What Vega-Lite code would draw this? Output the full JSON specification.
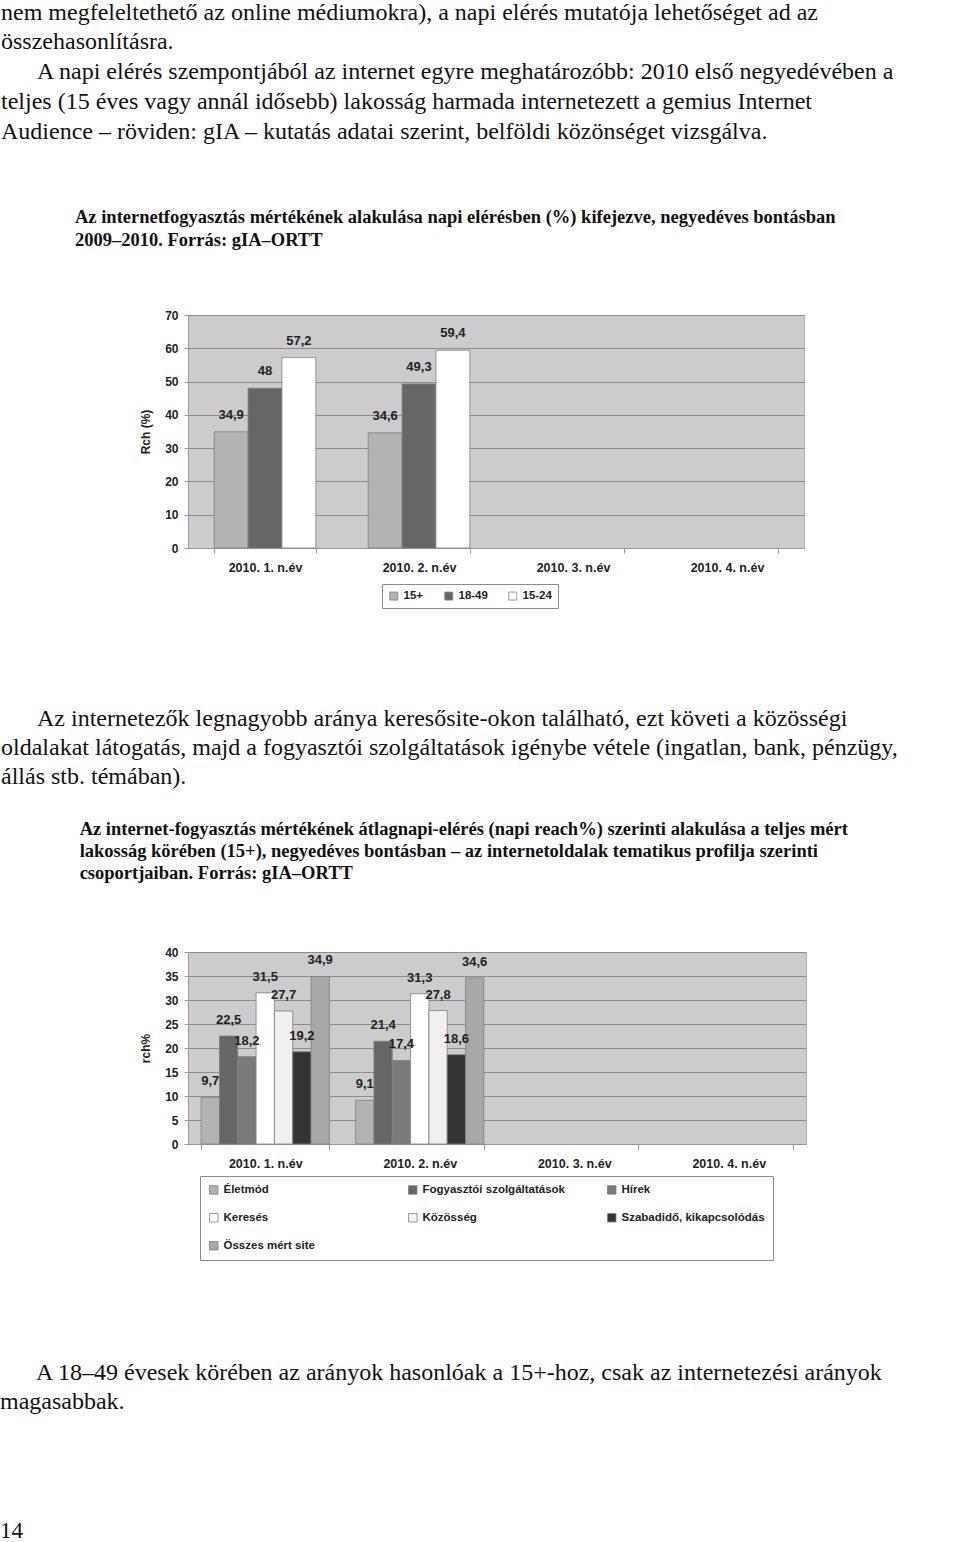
{
  "$schema": "https://vega.github.io/schema/vega-lite/v6.json",
  "padding": 0,
  "background": "white",
  "spacing": 97,
  "resolve": {"scale": {"color": "independent", "xOffset": "independent", "x": "independent", "y": "independent"}, "legend": {"color": "independent"}},
  "config": {
    "locale": {"number": {"decimal": ",", "thousands": " ", "grouping": [3], "currency": ["", ""]}},
    "view": {"fill": "#cccccc", "stroke": "#b0b0b0", "strokeWidth": 1},
    "axis": {
      "labelFont": "Liberation Sans", "labelFontWeight": "bold", "labelColor": "#222",
      "titleFont": "Liberation Sans", "titleFontWeight": "bold", "titleColor": "#222", "titleFontSize": 12,
      "domainColor": "#999", "tickColor": "#999"
    },
    "legend": {
      "labelFont": "Liberation Sans", "labelFontWeight": "bold", "labelFontSize": 11.5, "labelColor": "#222",
      "symbolType": "square", "symbolSize": 64, "symbolStrokeColor": "#808080", "symbolStrokeWidth": 0.8,
      "strokeColor": "#8c8c8c", "fillColor": "#ffffff"
    }
  },
  "title": {
    "text": [
      "\u200b\u00a0\u00a0\u00a0\u00a0\u00a0\u00a0A 18–49 évesek körében az arányok hasonlóak a 15+-hoz, csak az internetezési arányok",
      "magasabbak."
    ],
    "subtitle": "14",
    "orient": "bottom", "anchor": "start", "frame": "group", "offset": 100, "dx": -188,
    "font": "Liberation Serif", "fontSize": 24, "fontWeight": "normal", "color": "#111", "lineHeight": 29,
    "subtitleFont": "Liberation Serif", "subtitleFontSize": 23, "subtitleFontWeight": "normal", "subtitleColor": "#111",
    "subtitlePadding": 106
  },
  "vconcat": [
    {
      "width": 616,
      "height": 233,
      "title": {
        "text": [
          "nem megfeleltethető az online médiumokra), a napi elérés mutatója lehetőséget ad az",
          "összehasonlításra.",
          "\u200b\u00a0\u00a0\u00a0\u00a0\u00a0\u00a0A napi elérés szempontjából az internet egyre meghatározóbb: 2010 első negyedévében a",
          "teljes (15 éves vagy annál idősebb) lakosság harmada internetezett a gemius Internet",
          "Audience – röviden: gIA – kutatás adatai szerint, belföldi közönséget vizsgálva."
        ],
        "subtitle": [
          "\u200b\u00a0\u00a0\u00a0\u00a0\u00a0\u00a0\u00a0\u00a0\u00a0\u00a0\u00a0\u00a0\u00a0\u00a0\u00a0\u00a0Az internetfogyasztás mértékének alakulása napi elérésben (%) kifejezve, negyedéves bontásban",
          "\u200b\u00a0\u00a0\u00a0\u00a0\u00a0\u00a0\u00a0\u00a0\u00a0\u00a0\u00a0\u00a0\u00a0\u00a0\u00a0\u00a02009–2010. Forrás: gIA–ORTT"
        ],
        "anchor": "start", "frame": "group", "dx": -187, "offset": 60,
        "font": "Liberation Serif", "fontSize": 24, "fontWeight": "normal", "color": "#111", "lineHeight": 29.75,
        "subtitleFont": "Liberation Serif", "subtitleFontSize": 18.5, "subtitleFontWeight": "bold", "subtitleColor": "#111",
        "subtitleLineHeight": 23, "subtitlePadding": 64
      },
      "data": {
        "values": [
          {"quarter": "2010. 1. n.év", "group": "15+", "value": 34.9},
          {"quarter": "2010. 1. n.év", "group": "18-49", "value": 48},
          {"quarter": "2010. 1. n.év", "group": "15-24", "value": 57.2},
          {"quarter": "2010. 2. n.év", "group": "15+", "value": 34.6},
          {"quarter": "2010. 2. n.év", "group": "18-49", "value": 49.3},
          {"quarter": "2010. 2. n.év", "group": "15-24", "value": 59.4}
        ]
      },
      "encoding": {
        "x": {
          "field": "quarter", "type": "nominal",
          "scale": {"domain": ["2010. 1. n.év", "2010. 2. n.év", "2010. 3. n.év", "2010. 4. n.év"], "paddingInner": 0.34, "paddingOuter": 0.17},
          "axis": {"title": null, "labelAngle": 0, "labelFontSize": 12.5, "tickBand": "extent", "tickSize": 5, "labelPadding": 8}
        },
        "xOffset": {"field": "group", "type": "nominal", "scale": {"domain": ["15+", "18-49", "15-24"], "paddingInner": 0}},
        "y": {
          "field": "value", "type": "quantitative",
          "scale": {"domain": [0, 70], "nice": false},
          "axis": {"title": "Rch (%)", "values": [0, 10, 20, 30, 40, 50, 60, 70], "grid": true, "gridColor": "#8c8c8c", "labelFontSize": 12, "tickSize": 4, "labelPadding": 6, "titlePadding": 12}
        }
      },
      "layer": [
        {
          "mark": {"type": "bar", "stroke": "#808080", "strokeWidth": 0.8},
          "encoding": {
            "color": {
              "field": "group", "type": "nominal",
              "scale": {"domain": ["15+", "18-49", "15-24"], "range": ["#b3b3b3", "#666666", "#ffffff"]},
              "legend": {"title": null, "orient": "none", "legendX": 194, "legendY": 269, "direction": "horizontal", "columnPadding": 19, "padding": 6}
            }
          }
        },
        {
          "mark": {"type": "text", "dy": -13, "baseline": "alphabetic", "font": "Liberation Sans", "fontWeight": "bold", "fontSize": 13, "color": "#222"},
          "encoding": {"text": {"field": "value", "type": "quantitative", "format": ".1~f"}}
        }
      ]
    },
    {
      "width": 618,
      "height": 192,
      "title": {
        "text": [
          "\u200b\u00a0\u00a0\u00a0\u00a0\u00a0\u00a0Az internetezők legnagyobb aránya keresősite-okon található, ezt követi a közösségi",
          "oldalakat látogatás, majd a fogyasztói szolgáltatások igénybe vétele (ingatlan, bank, pénzügy,",
          "állás stb. témában)."
        ],
        "subtitle": [
          "\u200b\u00a0\u00a0\u00a0\u00a0\u00a0\u00a0\u00a0\u00a0\u00a0\u00a0\u00a0\u00a0\u00a0\u00a0\u00a0\u00a0\u00a0Az internet-fogyasztás mértékének átlagnapi-elérés (napi reach%) szerinti alakulása a teljes mért",
          "\u200b\u00a0\u00a0\u00a0\u00a0\u00a0\u00a0\u00a0\u00a0\u00a0\u00a0\u00a0\u00a0\u00a0\u00a0\u00a0\u00a0\u00a0lakosság körében (15+), negyedéves bontásban – az internetoldalak tematikus profilja szerinti",
          "\u200b\u00a0\u00a0\u00a0\u00a0\u00a0\u00a0\u00a0\u00a0\u00a0\u00a0\u00a0\u00a0\u00a0\u00a0\u00a0\u00a0\u00a0csoportjaiban. Forrás: gIA–ORTT"
        ],
        "anchor": "start", "frame": "group", "dx": -187, "offset": 64,
        "font": "Liberation Serif", "fontSize": 24, "fontWeight": "normal", "color": "#111", "lineHeight": 29,
        "subtitleFont": "Liberation Serif", "subtitleFontSize": 18.5, "subtitleFontWeight": "bold", "subtitleColor": "#111",
        "subtitleLineHeight": 22, "subtitlePadding": 31
      },
      "data": {
        "values": [
          {"quarter": "2010. 1. n.év", "site": "Életmód", "value": 9.7},
          {"quarter": "2010. 1. n.év", "site": "Fogyasztói szolgáltatások", "value": 22.5},
          {"quarter": "2010. 1. n.év", "site": "Hírek", "value": 18.2},
          {"quarter": "2010. 1. n.év", "site": "Keresés", "value": 31.5},
          {"quarter": "2010. 1. n.év", "site": "Közösség", "value": 27.7},
          {"quarter": "2010. 1. n.év", "site": "Szabadidő, kikapcsolódás", "value": 19.2},
          {"quarter": "2010. 1. n.év", "site": "Összes mért site", "value": 34.9},
          {"quarter": "2010. 2. n.év", "site": "Életmód", "value": 9.1},
          {"quarter": "2010. 2. n.év", "site": "Fogyasztói szolgáltatások", "value": 21.4},
          {"quarter": "2010. 2. n.év", "site": "Hírek", "value": 17.4},
          {"quarter": "2010. 2. n.év", "site": "Keresés", "value": 31.3},
          {"quarter": "2010. 2. n.év", "site": "Közösség", "value": 27.8},
          {"quarter": "2010. 2. n.év", "site": "Szabadidő, kikapcsolódás", "value": 18.6},
          {"quarter": "2010. 2. n.év", "site": "Összes mért site", "value": 34.6}
        ]
      },
      "encoding": {
        "x": {
          "field": "quarter", "type": "nominal",
          "scale": {"domain": ["2010. 1. n.év", "2010. 2. n.év", "2010. 3. n.év", "2010. 4. n.év"], "paddingInner": 0.17, "paddingOuter": 0.085},
          "axis": {"title": null, "labelAngle": 0, "labelFontSize": 12.5, "tickBand": "extent", "tickSize": 5, "labelPadding": 8}
        },
        "xOffset": {"field": "site", "type": "nominal", "scale": {"domain": ["Életmód", "Fogyasztói szolgáltatások", "Hírek", "Keresés", "Közösség", "Szabadidő, kikapcsolódás", "Összes mért site"], "paddingInner": 0}},
        "y": {
          "field": "value", "type": "quantitative",
          "scale": {"domain": [0, 40], "nice": false},
          "axis": {"title": "rch%", "values": [0, 5, 10, 15, 20, 25, 30, 35, 40], "grid": true, "gridColor": "#8c8c8c", "labelFontSize": 12, "tickSize": 4, "labelPadding": 6, "titlePadding": 12}
        }
      },
      "layer": [
        {
          "mark": {"type": "bar", "stroke": "#808080", "strokeWidth": 0.8},
          "encoding": {
            "color": {
              "field": "site", "type": "nominal",
              "scale": {"domain": ["Életmód", "Fogyasztói szolgáltatások", "Hírek", "Keresés", "Közösség", "Szabadidő, kikapcsolódás", "Összes mért site"], "range": ["#b3b3b3", "#666666", "#7a7a7a", "#ffffff", "#f0f0f0", "#333333", "#a8a8a8"]},
              "legend": {"title": null, "orient": "none", "legendX": 12, "legendY": 224, "direction": "horizontal", "columns": 3, "gridAlign": "all", "columnPadding": 39, "rowPadding": 15, "padding": 8, "symbolSize": 72}
            }
          }
        },
        {
          "mark": {"type": "text", "dy": -12, "baseline": "alphabetic", "font": "Liberation Sans", "fontWeight": "bold", "fontSize": 13, "color": "#222"},
          "encoding": {"text": {"field": "value", "type": "quantitative", "format": ".1~f"}}
        }
      ]
    }
  ]
}
